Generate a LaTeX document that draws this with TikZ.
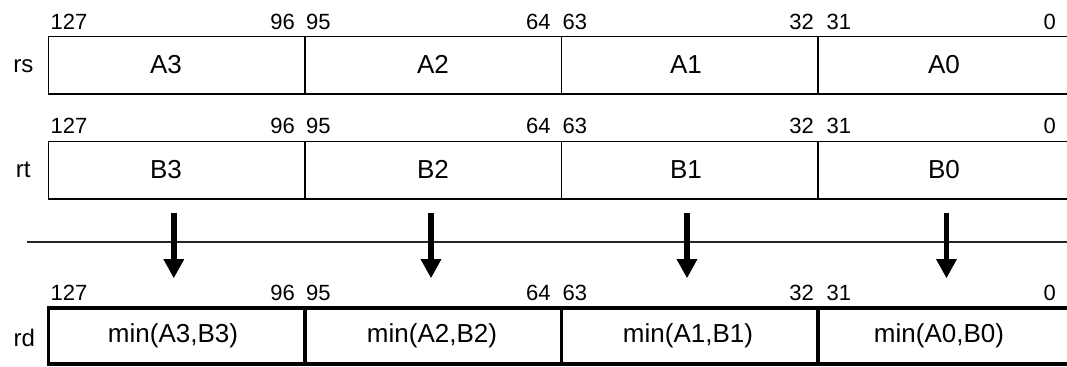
\documentclass[tikz,border=0pt]{standalone}
\usepackage{fontspec}
\setmainfont{Liberation Sans}
\usetikzlibrary{arrows.meta}
\begin{document}
\begin{tikzpicture}[x=0.75pt,y=-0.75pt,
  cell/.style={draw, line width=1.1pt, minimum width=192.4pt, minimum height=43pt, inner sep=0pt, outer sep=0pt},
  rdcell/.style={cell, line width=2.6pt, minimum height=42pt},
  bitlbl/.style={font=\fontsize{16.5}{18}\selectfont, inner sep=0pt},
  inlbl/.style={font=\fontsize{19.5}{22}\selectfont, inner sep=0pt, anchor=base},
  reglbl/.style={font=\fontsize{18}{20}\selectfont, inner sep=0pt, anchor=base},
  bigarrow/.style={line width=4.3pt, -{Triangle[width=14.5pt,length=14.3pt]}},
  sepline/.style={line width=1.3pt, draw=black!85}
]
\useasboundingbox (0,0) rectangle (1067,367);
\clip (0,0) rectangle (1067,367);

% ---------- rs row ----------
\node[reglbl] (rs) at (23.3,72.7) {rs};
\node[cell] (rs3) at (176.5,65.35) {};
\node[cell] (rs2) at (433.25,65.35) {};
\node[cell] (rs1) at (689.75,65.35) {};
\node[cell] (rs0) at (946.5,65.35) {};
\node[inlbl] (tA3) at (166,73.4) {A3};
\node[inlbl] (tA2) at (433,73.4) {A2};
\node[inlbl] (tA1) at (686,73.4) {A1};
\node[inlbl] (tA0) at (944,73.4) {A0};
\node[bitlbl, anchor=base west] (s127) at (50.3,29.5) {127};
\node[bitlbl, anchor=base east] (s96) at (295.2,29.5) {96};
\node[bitlbl, anchor=base west] (s95) at (305.8,29.5) {95};
\node[bitlbl, anchor=base east] (s64) at (550.8,29.5) {64};
\node[bitlbl, anchor=base west] (s63) at (562.4,29.5) {63};
\node[bitlbl, anchor=base east] (s32) at (814.2,29.5) {32};
\node[bitlbl, anchor=base west] (s31) at (826.4,29.5) {31};
\node[bitlbl, anchor=base east] (s0) at (1056,29.5) {0};

% ---------- rt row ----------
\node[reglbl] (rt) at (23.3,177.7) {rt};
\node[cell] (rt3) at (176.5,170.35) {};
\node[cell] (rt2) at (433.25,170.35) {};
\node[cell] (rt1) at (689.75,170.35) {};
\node[cell] (rt0) at (946.5,170.35) {};
\node[inlbl] (tB3) at (166,178.4) {B3};
\node[inlbl] (tB2) at (433,178.4) {B2};
\node[inlbl] (tB1) at (686,178.4) {B1};
\node[inlbl] (tB0) at (944,178.4) {B0};
\node[bitlbl, anchor=base west] (t127) at (50.3,133.8) {127};
\node[bitlbl, anchor=base east] (t96) at (295.2,133.8) {96};
\node[bitlbl, anchor=base west] (t95) at (305.8,133.8) {95};
\node[bitlbl, anchor=base east] (t64) at (550.8,133.8) {64};
\node[bitlbl, anchor=base west] (t63) at (562.4,133.8) {63};
\node[bitlbl, anchor=base east] (t32) at (814.2,133.8) {32};
\node[bitlbl, anchor=base west] (t31) at (826.4,133.8) {31};
\node[bitlbl, anchor=base east] (t0) at (1056,133.8) {0};

% ---------- separator ----------
\coordinate (sepL) at (27,241.7);
\coordinate (sepR) at (1067,241.7);
\draw[sepline] (sepL) -- (sepR);

% ---------- arrows ----------
\coordinate (a3s) at (173.8,213.3); \coordinate (a3e) at (173.8,278.3);
\coordinate (a2s) at (431,213.3);   \coordinate (a2e) at (431,278.3);
\coordinate (a1s) at (687,213.3);   \coordinate (a1e) at (687,278.3);
\coordinate (a0s) at (946.5,213.3); \coordinate (a0e) at (946.5,278.3);
\draw[bigarrow] (a3s) -- (a3e);
\draw[bigarrow] (a2s) -- (a2e);
\draw[bigarrow] (a1s) -- (a1e);
\draw[bigarrow] (a0s) -- (a0e);

% ---------- rd row ----------
\node[reglbl] (rd) at (24.2,346) {rd};
\node[rdcell] (rd3) at (176.5,336) {};
\node[rdcell] (rd2) at (433.25,336) {};
\node[rdcell] (rd1) at (689.75,336) {};
\node[rdcell] (rd0) at (946.5,336) {};
\node[inlbl] (tm3) at (173,342.8) {min(A3,B3)};
\node[inlbl] (tm2) at (432,342.8) {min(A2,B2)};
\node[inlbl] (tm1) at (688,342.8) {min(A1,B1)};
\node[inlbl] (tm0) at (939,342.8) {min(A0,B0)};
\node[bitlbl, anchor=base west] (d127) at (50.3,300) {127};
\node[bitlbl, anchor=base east] (d96) at (295.2,300) {96};
\node[bitlbl, anchor=base west] (d95) at (305.8,300) {95};
\node[bitlbl, anchor=base east] (d64) at (550.8,300) {64};
\node[bitlbl, anchor=base west] (d63) at (562.4,300) {63};
\node[bitlbl, anchor=base east] (d32) at (814.2,300) {32};
\node[bitlbl, anchor=base west] (d31) at (826.4,300) {31};
\node[bitlbl, anchor=base east] (d0) at (1056,300) {0};
\end{tikzpicture}
\end{document}
